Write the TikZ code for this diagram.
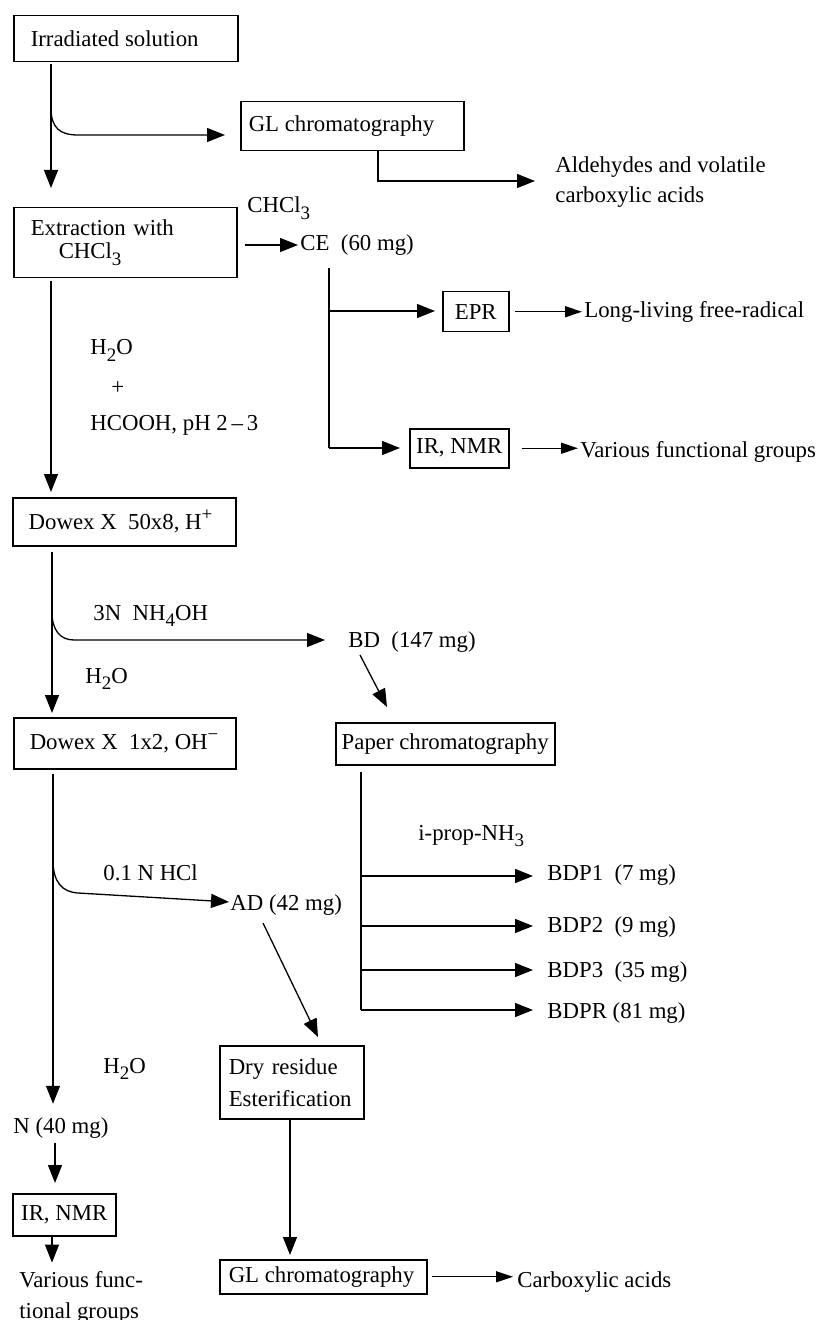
\documentclass[tikz,border=0pt]{standalone}
\usepackage{fontspec}
\setmainfont{Liberation Serif}
\usetikzlibrary{arrows.meta}
\newcommand\dfont{\fontsize{11.4pt}{16pt}\selectfont}
\newcommand\chsub[1]{\raisebox{-0.6ex}{\fontsize{9.5pt}{10pt}\selectfont #1}}
\newcommand\chsup[1]{\raisebox{0.85ex}{\fontsize{9.5pt}{10pt}\selectfont #1}}
\begin{document}
\begin{tikzpicture}[x=0.5pt,y=-0.5pt,
  every node/.style={font=\dfont, inner sep=0pt},
  bx/.style={draw, line width=0.75pt, anchor=north west, inner ysep=0pt},
  lbl/.style={anchor=base west},
  ln/.style={line width=0.65pt},
  arr/.style={ln, -{Triangle[length=9pt,width=7pt]}},
  sarr/.style={ln, -{Triangle[length=8.5pt,width=5.5pt]}}]
\path[use as bounding box] (0,0) rectangle (816,1320);

% boxes
\node[bx, minimum height=23pt, inner xsep=8.5pt] (irr) at (13,15) {\makebox[95pt][l]{Irradiated solution}};
\node[bx, minimum height=24.5pt, inner xsep=4pt] (gl1) at (240,101) {\makebox[103.5pt][l]{GL chromatography}};
\node[bx, minimum height=35pt, text width=94.5pt, inner xsep=8.5pt, align=left] (ext) at (13,207) {Extraction with\\[-4.5pt]\hspace*{14pt}CHCl\chsub{3}};
\node[bx, minimum height=24pt, inner xsep=8pt] (dow1) at (12,497) {\makebox[95.5pt][l]{Dowex X\ \ 50x8, H\chsup{+}}};
\node[bx, minimum height=25.5pt, inner xsep=8pt] (dow2) at (13,717) {\makebox[95pt][l]{Dowex X\ \ 1x2, OH\chsup{−}}};
\node[bx, minimum width=33pt, minimum height=20pt] (epr) at (442,291) {EPR};
\node[bx, minimum width=49.5pt, minimum height=19.5pt] (ir1) at (409,428) {IR, NMR};
\node[bx, minimum width=109.5pt, minimum height=21pt] (paper) at (335,722) {Paper chromatography};
\node[bx, minimum height=36.5pt, text width=63pt, inner xsep=4.5pt, align=left] (dry) at (219,1045) {Dry residue\\Esterification};
\node[bx, minimum width=51.5pt, minimum height=21pt] (ir2) at (12,1193) {IR, NMR};
\node[bx, minimum height=17pt, inner xsep=4.5pt] (gl2) at (219,1259) {\makebox[94.5pt][l]{GL chromatography}};

% labels
\node[lbl] (ald) at (555,173) {Aldehydes and volatile};
\node[lbl] (carb1) at (555,203) {carboxylic acids};
\node[lbl] (chcl) at (247,213) {CHCl\chsub{3}};
\node[lbl] (ce) at (300,251) {CE\ \ (60 mg)};
\node[lbl] (long) at (584,318) {Long-living free-radical};
\node[lbl] (vfg) at (580,457) {Various functional groups};
\node[lbl] (h2oa) at (90,355) {H\chsub{2}O};
\node[lbl] (plus) at (111,394) {+};
\node[lbl] (hcooh) at (90,430) {HCOOH, pH 2\,–\,3};
\node[lbl] (nh4) at (93,620) {3N\ \ NH\chsub{4}OH};
\node[lbl] (bd) at (348,647) {BD\ \ (147 mg)};
\node[lbl] (h2ob) at (85,683) {H\chsub{2}O};
\node[lbl] (iprop) at (418,840) {i-prop-NH\chsub{3}};
\node[lbl] (bdp1) at (547,880) {BDP1\ \ (7 mg)};
\node[lbl] (bdp2) at (547,932) {BDP2\ \ (9 mg)};
\node[lbl] (bdp3) at (547,977) {BDP3\ \ (35 mg)};
\node[lbl] (bdpr) at (547,1018) {BDPR (81 mg)};
\node[lbl] (hcl) at (103,880) {0.1 N HCl};
\node[lbl] (ad) at (230,910) {AD (42 mg)};
\node[lbl] (h2oc) at (103,1073) {H\chsub{2}O};
\node[lbl] (n) at (13,1133) {N (40 mg)};
\node[lbl] (vf1) at (19,1287) {Various func-};
\node[lbl] (vf2) at (19,1318) {tional groups};
\node[lbl] (carb) at (517,1287) {Carboxylic acids};

% helper coordinates
\coordinate (cx1) at (51,0);
\coordinate (cx2) at (52,0);
\coordinate (cx13) at (53,0);
\coordinate (cx16) at (55,0);
\coordinate (cx18) at (290,0);
\coordinate (jA) at (51,108);
\coordinate (jAe) at (78,135);
\coordinate (cx3) at (378,181);
\coordinate (ry1) at (0,245);
\coordinate (ceA) at (329,311);
\coordinate (ceB) at (329,448);
\coordinate (jB) at (52,612);
\coordinate (jBe) at (74,640);
\coordinate (bdA) at (360,655);
\coordinate (bdB) at (387,707);
\coordinate (pA) at (361,876);
\coordinate (pB) at (361,926);
\coordinate (pC) at (361,970);
\coordinate (pD) at (361,1010);
\coordinate (jC) at (53,860);
\coordinate (jCe) at (78,893);
\coordinate (jCt) at (0,902);
\coordinate (adA) at (263,923);
\coordinate (adB) at (318,1037);

% connectors
\draw[arr, shorten <=1pt, shorten >=9.5pt] (irr.south -| cx1) -- (ext.north -| cx1);
\draw[arr, shorten >=7.5pt] (jA) .. controls (51,128) and (60,135) .. (jAe) -- (jAe -| gl1.west);
\draw[arr, shorten >=10pt] (gl1.south -| cx3) -- (cx3) -- (cx3 -| ald.west);
\draw[arr, shorten <=3.5pt, shorten >=1pt] (ext.east |- ry1) -- (ce.west |- ry1);
\draw[ln, shorten <=6pt] (ce.south -| ceA) -- (ceB);
\draw[arr, shorten >=3.5pt] (ceA) -- (ceA -| epr.west);
\draw[arr, shorten >=4.5pt] (ceB) -- (ceB -| ir1.west);
\draw[sarr, shorten <=2.5pt, shorten >=1pt] (epr.east) -- (epr.east -| long.west);
\draw[sarr, shorten <=6pt, shorten >=1pt] (ir1.east) -- (ir1.east -| vfg.west);
\draw[arr, shorten <=1.5pt, shorten >=2.5pt] (ext.south -| cx1) -- (dow1.north -| cx1);
\draw[arr, shorten <=2.5pt, shorten >=2pt] (dow1.south -| cx2) -- (dow2.north -| cx2);
\draw[arr, shorten >=11.5pt] (jB) .. controls (52,630) and (60,640) .. (jBe) -- (jBe -| bd.west);
\draw[arr] (bdA) -- (bdB);
\draw[ln, shorten <=3pt] (paper.south -| pA) -- (pD);
\draw[arr, shorten >=7pt] (pA) -- (pA -| bdp1.west);
\draw[arr, shorten >=7pt] (pB) -- (pB -| bdp2.west);
\draw[arr, shorten >=7pt] (pC) -- (pC -| bdp3.west);
\draw[arr, shorten >=7pt] (pD) -- (pD -| bdpr.west);
\draw[arr, shorten <=2pt, shorten >=6.5pt] (dow2.south -| cx13) -- (n.north -| cx13);
\draw[arr, shorten >=0.5pt] (jC) .. controls (53,882) and (62,892) .. (jCe) -- (jCt -| ad.west);
\draw[arr] (adA) -- (adB);
\draw[arr, shorten <=2.5pt, shorten >=5pt] (n.south -| cx16) -- (ir2.north -| cx16);
\draw[arr, shorten >=4pt] (ir2.south -| cx2) -- (vf1.north -| cx2);
\draw[arr, shorten >=2pt] (dry.south -| cx18) -- (gl2.north -| cx18);
\draw[sarr, shorten <=2pt, shorten >=2pt] (gl2.east) -- (gl2.east -| carb.west);
\end{tikzpicture}
\end{document}
